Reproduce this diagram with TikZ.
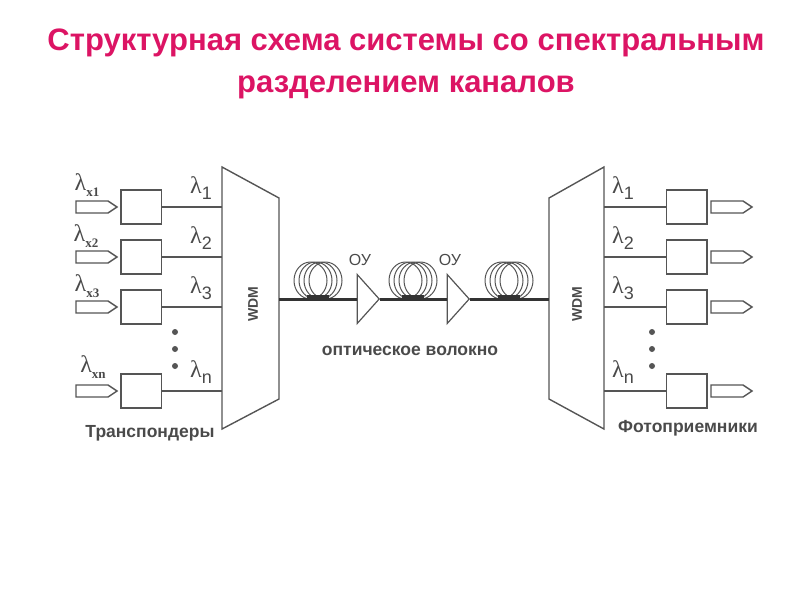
\documentclass[tikz,border=0pt]{standalone}
\usepackage{fontspec}
\setmainfont{Liberation Sans}
\newfontfamily\serifx{Liberation Serif}
\usepackage{xcolor}
\usetikzlibrary{shapes.geometric, positioning, calc}
\definecolor{TitlePink}{HTML}{DC1464}
\definecolor{LineGray}{HTML}{555555}
\definecolor{TextGray}{HTML}{4A4A4A}
\tikzset{
    unitbox/.style={draw=LineGray, line width=1.5pt, minimum width=40.5pt, minimum height=34pt, inner sep=0pt},
    portarrow/.style={draw=LineGray, line width=1.4pt, fill=white},
    wavelabel/.style={text=TextGray, inner sep=0pt},
    caption/.style={text=TextGray, font=\fontsize{17.5}{18}\selectfont\bfseries, inner sep=0pt},
    ampnode/.style={draw=LineGray, line width=1.2pt, fill=white, isosceles triangle, isosceles triangle apex angle=96, isosceles triangle stretches, minimum width=49pt, minimum height=22pt, inner sep=0pt, anchor=apex},
    fiberline/.style={draw=black!80, line width=3pt}
}
\newcommand{\portshape}[1]{(#1) ++(0,-6) -- ++(32,0) -- ++(9,6) -- ++(-9,6) -- ++(-32,0) -- cycle}
\newcommand{\lamtext}[1]{\fontsize{24}{24}\selectfont{\serifx λ}\raisebox{-6pt}{\fontsize{18}{18}\selectfont #1}}
\begin{document}
\begin{tikzpicture}[x=1pt, y=-1pt]
    \useasboundingbox (0,0) rectangle (800,600);
    \node[text=TitlePink, font=\fontsize{31}{42}\selectfont\bfseries, align=center, inner sep=0pt] (title) at (406,64) {Структурная схема системы со спектральным\\разделением каналов};
    % Multiplexer and demultiplexer
    \coordinate (muxA) at (222,167);
    \coordinate (muxB) at (279,198);
    \coordinate (muxC) at (279,399);
    \coordinate (muxD) at (222,429);
    \coordinate (demuxA) at (604,167);
    \coordinate (demuxB) at (549,198);
    \coordinate (demuxC) at (549,399);
    \coordinate (demuxD) at (604,429);
    \draw[draw=LineGray, line width=1.4pt] (muxA) -- (muxB) -- (muxC) -- (muxD) -- cycle;
    \draw[draw=LineGray, line width=1.4pt] (demuxA) -- (demuxB) -- (demuxC) -- (demuxD) -- cycle;
    \node[text=TextGray, font=\fontsize{14}{14}\selectfont\bfseries, rotate=90, inner sep=0pt] (muxlabel) at (253,304) {WDM};
    \node[text=TextGray, font=\fontsize{14}{14}\selectfont\bfseries, rotate=90, inner sep=0pt] (demuxlabel) at (577,304) {WDM};
    % Transponders and photodetectors
    \foreach \i/\y/\s in {1/207/1, 2/257/2, 3/307/3, 4/391/n} {
        \node[unitbox] (tx\i) at (141.2,\y) {};
        \node[unitbox] (rx\i) at (686.5,\y) {};
        \coordinate (txin\i) at (76,\y);
        \coordinate (rxout\i) at (711,\y);
        \coordinate (muxport\i) at (222,\y);
        \coordinate (demuxport\i) at (604,\y);
        \draw[portarrow] \portshape{txin\i};
        \draw[portarrow] \portshape{rxout\i};
        \draw[draw=LineGray, line width=1.4pt] (tx\i) -- (muxport\i);
        \draw[draw=LineGray, line width=1.4pt] (demuxport\i) -- (rx\i);
        \node[wavelabel] (lamtx\i) at (201,\y-19) {\lamtext{\s}};
        \node[wavelabel] (lamrx\i) at (623,\y-19) {\lamtext{\s}};
    }
    % Input labels
    \foreach \i/\x/\y/\t in {1/87/185/x1, 2/86/236/x2, 3/87/286/x3, 4/93/367/xn} {
        \node[text=TextGray, inner sep=0pt] (laminp\i) at (\x,\y) {\fontsize{24}{24}\selectfont{\serifx λ}\raisebox{-6pt}{\fontsize{13}{13}\selectfont\serifx\bfseries\t}};
    }
    \foreach \y [count=\k] in {332,349,366} {
        \node[circle, fill=LineGray, minimum size=6pt, inner sep=0pt] (dotl\k) at (175,\y) {};
        \node[circle, fill=LineGray, minimum size=6pt, inner sep=0pt] (dotr\k) at (652,\y) {};
    }
    % Fiber line with coils and amplifiers
    \coordinate (fiberL) at (279,299);
    \coordinate (fiberR) at (549,299);
    \node[ampnode] (ou1) at (380,299) {};
    \node[ampnode] (ou2) at (470,299) {};
    \foreach \x in {318,413,509} {
        \foreach \d in {-7.5,-2.5,2.5,7.5} {
            \draw[draw=LineGray, line width=1pt] (\x+\d,280.5) ellipse (16.5 and 18.5);
        }
        \fill[black!80] (\x-11,294.5) rectangle (\x+11,299);
    }
    \draw[fiberline] (fiberL) -- (ou1.west);
    \draw[fiberline] (ou1.apex) -- (ou2.west);
    \draw[fiberline] (ou2.apex) -- (fiberR);
    \node[text=TextGray, font=\fontsize{16}{16}\selectfont, inner sep=0pt] (oulabel1) at (360,260) {ОУ};
    \node[text=TextGray, font=\fontsize{16}{16}\selectfont, inner sep=0pt] (oulabel2) at (450,260) {ОУ};
    \node[caption] (fiberlabel) at (410,351) {оптическое волокно};
    \node[caption] (txlabel) at (150,433) {Транспондеры};
    \node[caption] (rxlabel) at (688,428) {Фотоприемники};
\end{tikzpicture}
\end{document}
